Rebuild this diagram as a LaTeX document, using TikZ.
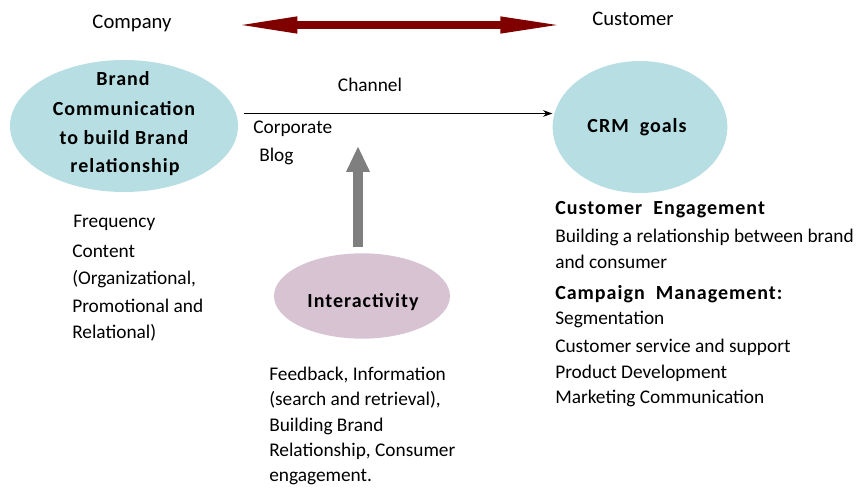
\documentclass[tikz,border=0pt]{standalone}
\usepackage{fontspec}
\setmainfont{Carlito}
\newfontfamily\bsp[LetterSpace=5]{Carlito}
\usetikzlibrary{arrows.meta,shapes.geometric}
\definecolor{ellblue}{HTML}{B7DEE3}
\definecolor{ellpink}{HTML}{D8C3D3}
\definecolor{darkred}{HTML}{800000}
\definecolor{arrgray}{HTML}{7F7F7F}
\tikzset{
  ell/.style={ellipse, draw=none, inner sep=0pt},
  txt/.style={inner sep=0pt, anchor=base west, font=\fontsize{14.5pt}{17pt}\selectfont},
  big/.style={inner sep=0pt, anchor=base, font=\fontsize{15.5pt}{18pt}\selectfont},
  btxt/.style={inner sep=0pt, anchor=base west, font=\fontsize{15pt}{18pt}\selectfont\bsp\bfseries},
  bc/.style={inner sep=0pt, anchor=base, font=\fontsize{15pt}{18pt}\selectfont\bsp\bfseries},
}
\begin{document}
\begin{tikzpicture}[x=0.75pt,y=-0.75pt]
\useasboundingbox (0,0) rectangle (860,488);
% ellipses
\node[ell, fill=ellblue, minimum width=171pt, minimum height=99pt] (brand) at (124,126) {};
\node[ell, fill=ellblue, minimum width=131pt, minimum height=99pt] (crm) at (640,127) {};
\node[ell, fill=ellpink, minimum width=132pt, minimum height=64pt] (inter) at (362,296) {};
% top labels
\node[big] (company) at (132,29) {Company};
\node[big] (customer) at (633,26) {Customer};
\coordinate (dl) at (232,25);
\coordinate (dr) at (567,25);
\draw[darkred, line width=6pt, {Triangle[length=49pt,width=11pt]}-{Triangle[length=50pt,width=11pt]}] (dl) -- (dr);
% ellipse texts
\node[bc] (b1) at (123,86) {Brand};
\node[bc] (b2) at (124,116) {Communication};
\node[bc] (b3) at (124,145) {to build Brand};
\node[bc] (b4) at (125,173) {relationship};
\node[bc] (crmt) at (637,133) {CRM\ \ goals};
\node[bc] (intt) at (363,307) {Interactivity};
% channel
\node[txt, anchor=base] (channel) at (370,92) {Channel};
\coordinate (chs) at (244,113.5);
\draw[line width=0.75pt, -{Stealth[length=7pt,width=5pt]}] (chs) -- (crm.west |- chs);
\node[txt] (corp) at (253,134) {Corporate};
\node[txt] (blog) at (259,162) {Blog};
% gray arrow
\coordinate (ga) at (358,247);
\coordinate (gb) at (358,146);
\draw[arrgray, line width=7.5pt, -{Triangle[length=19.5pt,width=16.5pt]}] (ga) -- (gb);
% left list
\node[txt] (l1) at (73,228) {Frequency};
\node[txt] (l2) at (72,258) {Content};
\node[txt] (l3) at (72,285) {(Organizational,};
\node[txt] (l4) at (72,312) {Promotional and};
\node[txt] (l5) at (72,339) {Relational)};
% interactivity list
\node[txt] (i1) at (269,380) {Feedback, Information};
\node[txt] (i2) at (269,405) {(search and retrieval),};
\node[txt] (i3) at (269,431) {Building Brand};
\node[txt] (i4) at (269,456) {Relationship, Consumer};
\node[txt] (i5) at (269,481) {engagement.};
% right list
\node[btxt] (r1) at (555,215) {Customer\ \ Engagement};
\node[txt] (r2) at (555,243) {Building a relationship between brand};
\node[txt] (r3) at (555,268) {and consumer};
\node[btxt] (r4) at (555,300) {Campaign\ \ Management:};
\node[txt] (r5) at (555,325) {Segmentation};
\node[txt] (r6) at (555,352) {Customer service and support};
\node[txt] (r7) at (555,378) {Product Development};
\node[txt] (r8) at (555,403) {Marketing Communication};
\end{tikzpicture}
\end{document}
